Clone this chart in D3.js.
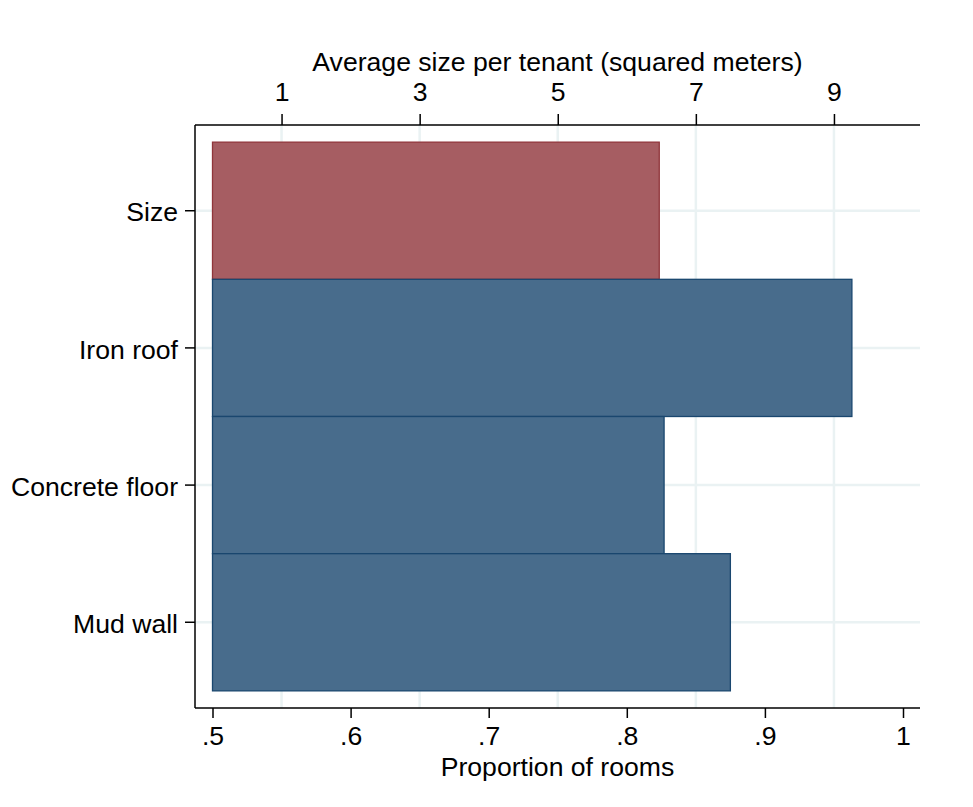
<!DOCTYPE html>
<html>
<head>
<meta charset="utf-8">
<script src="https://cdn.jsdelivr.net/npm/d3@7"></script>
<style>
  html, body { margin: 0; padding: 0; background: #fff; }
  svg { display: block; }
  text { font-family: "Liberation Sans", Arial, Helvetica, sans-serif; fill: #000; }
</style>
</head>
<body>
<svg id="chart" width="973" height="807"></svg>
<script>
// ---- data ----
const categories = ["Size", "Iron roof", "Concrete floor", "Mud wall"];
const sizeValue = 6.47;                 // average size per tenant (m²), top axis
const proportionCategories = ["Iron roof", "Concrete floor", "Mud wall"];
const proportionValues = [0.963, 0.827, 0.875]; // proportion of rooms, bottom axis
const bottomTicks = [0.5, 0.6, 0.7, 0.8, 0.9, 1];
const bottomTickLabels = [".5", ".6", ".7", ".8", ".9", "1"];
const topTicks = [1, 3, 5, 7, 9];
const topTitle = "Average size per tenant (squared meters)";
const bottomTitle = "Proportion of rooms";

// ---- layout ----
const svg = d3.select("#chart");
const plotLeft = 195, plotRight = 920, plotTop = 125, plotBottom = 708;
const x0 = 212.5, x1 = 903;  // pixel positions of .5 and 1

const xBottom = d3.scaleLinear().domain([0.5, 1]).range([x0, x1]);
const xTop = d3.scaleLinear().domain([0, 10]).range([x0, x1]);
const y = d3.scaleBand().domain(categories).range([plotTop, plotBottom])
  .paddingInner(0).paddingOuter(0.125);

const gridColor = "#eaf2f3";
const fontSize = 26.6;

// gridlines
const grid = svg.append("g");
grid.selectAll("line.v").data(topTicks).join("line")
  .attr("x1", d => xTop(d)).attr("x2", d => xTop(d))
  .attr("y1", plotTop).attr("y2", plotBottom)
  .attr("stroke", gridColor).attr("stroke-width", 2.5);
grid.selectAll("line.h").data(categories).join("line")
  .attr("x1", plotLeft).attr("x2", plotRight)
  .attr("y1", d => y(d) + y.bandwidth() / 2).attr("y2", d => y(d) + y.bandwidth() / 2)
  .attr("stroke", gridColor).attr("stroke-width", 2.5);

// bars
const bars = svg.append("g");
bars.append("rect")
  .attr("x", xTop(0)).attr("y", y("Size"))
  .attr("width", xTop(sizeValue) - xTop(0)).attr("height", y.bandwidth())
  .attr("fill", "#a65d62").attr("stroke", "#90353b").attr("stroke-width", 1.3);
bars.selectAll("rect.p").data(proportionCategories).join("rect")
  .attr("class", "p")
  .attr("x", xBottom(0.5)).attr("y", d => y(d))
  .attr("width", (d, i) => xBottom(proportionValues[i]) - xBottom(0.5))
  .attr("height", y.bandwidth())
  .attr("fill", "#486c8c").attr("stroke", "#1a476f").attr("stroke-width", 1.3);

// axes
const bottomAxis = d3.axisBottom(xBottom).tickValues(bottomTicks)
  .tickFormat((d, i) => bottomTickLabels[i]).tickSizeOuter(0).tickSize(10).tickPadding(8);
const gB = svg.append("g").attr("transform", `translate(0,${plotBottom})`).call(bottomAxis);
gB.select(".domain").attr("d", `M${plotLeft},0H${plotRight}`);

const topAxis = d3.axisTop(xTop).tickValues(topTicks).tickFormat(d3.format("d"))
  .tickSizeOuter(0).tickSize(11).tickPadding(13);
const gT = svg.append("g").attr("transform", `translate(0,${plotTop})`).call(topAxis);
gT.select(".domain").attr("d", `M${plotLeft},0H${plotRight}`);

const leftAxis = d3.axisLeft(y).tickSizeOuter(0).tickSize(10).tickPadding(7);
const gL = svg.append("g").attr("transform", `translate(${plotLeft},0)`).call(leftAxis);
gL.select(".domain").attr("d", `M0,${plotTop}V${plotBottom}`);
gL.selectAll(".tick text").attr("dy", "0.4em");

svg.selectAll(".domain").attr("stroke", "#000").attr("stroke-width", 1.5);
svg.selectAll(".tick line").attr("stroke", "#000").attr("stroke-width", 1.5);
svg.selectAll(".tick text").attr("font-size", fontSize)
  .attr("font-family", "'Liberation Sans', Arial, sans-serif").attr("fill", "#000");

// titles
const cx = (plotLeft + plotRight) / 2;
svg.append("text").attr("x", cx).attr("y", 71).attr("text-anchor", "middle")
  .attr("font-size", fontSize).text(topTitle);
svg.append("text").attr("x", cx).attr("y", 776).attr("text-anchor", "middle")
  .attr("font-size", fontSize).text(bottomTitle);
</script>
</body>
</html>
